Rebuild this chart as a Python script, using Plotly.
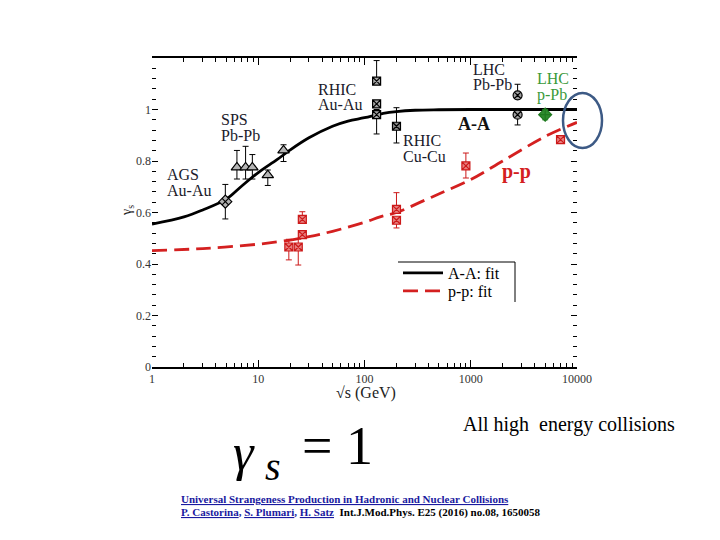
import plotly.graph_objects as go

# ---------------- data ----------------
fit_x = [1, 2, 3, 5, 7, 10, 15, 20, 30, 50, 70, 100, 150, 200, 300, 500, 1000, 3000, 10000]
fit_aa = [0.555, 0.583, 0.61, 0.652, 0.703, 0.755, 0.805, 0.843, 0.89, 0.935, 0.955, 0.968, 0.985, 0.992, 0.997, 0.999, 1.0, 1.0, 1.0]
fit_pp_x = [1, 3, 10, 20, 30, 50, 100, 140, 200, 370, 500, 1000, 2000, 5000, 10000]
fit_pp = [0.452, 0.46, 0.477, 0.493, 0.506, 0.527, 0.562, 0.583, 0.600, 0.648, 0.672, 0.728, 0.80, 0.895, 0.95]

ags_x = [4.9]
ags_y = [0.642]
ags_err = [0.067]

sps_x = [6.3, 7.6, 8.8, 12.3, 17.3]
sps_y = [0.775, 0.775, 0.775, 0.745, 0.841]
sps_ep = [0.066, 0.082, 0.05, 0.02, 0.022]
sps_em = [0.045, 0.045, 0.045, 0.04, 0.043]

rhic_au_x = [130, 130, 130]
rhic_au_y = [1.11, 1.022, 0.98]
rhic_au_ep = [0.08, 0.01, 0.02]
rhic_au_em = [0.0, 0.01, 0.075]

rhic_cu_x = [200]
rhic_cu_y = [0.935]
rhic_cu_ep = [0.072]
rhic_cu_em = [0.065]

lhc_pb_x = [2760, 2760]
lhc_pb_y = [1.055, 0.98]
lhc_pb_ep = [0.043, 0.0]
lhc_pb_em = [0.0, 0.04]

lhc_ppb_x = [5020]
lhc_ppb_y = [0.98]
lhc_ppb_err = [0.02]

pp_x = [19.4, 23.8, 26, 26, 200, 200, 900, 7000]
pp_y = [0.466, 0.466, 0.514, 0.573, 0.57, 0.612, 0.781, 0.883]
pp_ep = [0.03, 0.03, 0.0, 0.03, 0.0, 0.065, 0.05, 0.0]
pp_em = [0.05, 0.07, 0.0, 0.0, 0.03, 0.0, 0.047, 0.0]

x_ticks = [1, 10, 100, 1000, 10000]
x_ticklabels = ["1", "10", "100", "1000", "10000"]
y_ticks = [0, 0.2, 0.4, 0.6, 0.8, 1.0]
y_ticklabels = ["0", "0.2", "0.4", "0.6", "0.8", "1"]

# ---------------- geometry helpers (screen pixels) ----------------
W, H = 720, 540
L, R, T, B = 152, 577, 58, 367   # plot area as seen on screen
OFF = 8                          # page body margin shifts the figure


def px(x):
    return (x - L) / (R - L)


def py(y):
    return (B - y) / (B - T)


SERIF = "Liberation Serif"
fig = go.Figure()

fig.add_trace(go.Scatter(x=fit_x, y=fit_aa, mode="lines", name="A-A: fit", legend="legend",
                         line=dict(color="black", width=2.8, shape="spline")))
fig.add_trace(go.Scatter(x=fit_pp_x, y=fit_pp, mode="lines", name="p-p: fit", legend="legend2",
                         line=dict(color="#d42020", width=2.8, dash="15px,7px", shape="spline")))


def pts(x, y, ep, em, symbol, fill, edge, size):
    fig.add_trace(go.Scatter(
        x=x, y=y, mode="markers", showlegend=False,
        marker=dict(symbol=symbol, size=size, color=fill, line=dict(color=edge, width=1.2)),
        error_y=dict(type="data", array=ep, arrayminus=em, symmetric=False,
                     color=edge, thickness=1, width=3)))


pts(ags_x, ags_y, ags_err, ags_err, "diamond-x", "#b0b0b0", "black", 10)
pts(sps_x, sps_y, sps_ep, sps_em, "triangle-up", "#b5b5b5", "black", 10)
pts(rhic_au_x, rhic_au_y, rhic_au_ep, rhic_au_em, "square-x", "#a8a8a8", "black", 8)
pts(rhic_cu_x, rhic_cu_y, rhic_cu_ep, rhic_cu_em, "square-x", "#8a8a8a", "black", 8)
pts(lhc_pb_x, lhc_pb_y, lhc_pb_ep, lhc_pb_em, "circle-x", "#a0a0a0", "black", 9)
pts(lhc_ppb_x, lhc_ppb_y, lhc_ppb_err, lhc_ppb_err, "diamond-cross", "#2e8b2e", "#1f7a1f", 10)
pts(pp_x, pp_y, pp_ep, pp_em, "square-x", "#e88080", "#cc1a1a", 8)

# ---------------- labels ----------------
ann = []


def label(text, x, y, size=16, color="#1a1a2a", bold=False, xanchor="left"):
    t = f"<b>{text}</b>" if bold else text
    ann.append(dict(text=t, x=px(x), y=py(y), xref="paper", yref="paper",
                    xanchor=xanchor, yanchor="middle", showarrow=False,
                    font=dict(family=SERIF, size=size, color=color)))


label("AGS", 165, 174)
label("Au-Au", 165, 190)
label("SPS", 219, 120)
label("Pb-Pb", 219, 135)
label("RHIC", 316, 89)
label("Au-Au", 316, 104)
label("LHC", 471, 69)
label("Pb-Pb", 471, 84)
label("LHC", 535, 79, color="#3a9a3a")
label("p-Pb", 535, 95, color="#3a9a3a")
label("RHIC", 401, 140)
label("Cu-Cu", 401, 156)
label("A-A", 456, 124, size=18, color="#111", bold=True)
label("p-p", 500, 171, size=20, color="#d42020", bold=True)

# axis titles
ann.append(dict(text="γ<sub>s</sub>", x=px(127), y=py(211), xref="paper", yref="paper",
                textangle=-90, showarrow=False, xanchor="center", yanchor="middle",
                font=dict(family=SERIF, size=14, color="#222")))
ann.append(dict(text="√s (GeV)", x=px(366), y=py(393), xref="paper", yref="paper",
                showarrow=False, xanchor="center", yanchor="middle",
                font=dict(family=SERIF, size=16, color="#222")))

# text under the chart
ann.append(dict(text="All high  energy collisions", x=px(461), y=py(424), xref="paper", yref="paper",
                showarrow=False, xanchor="left", yanchor="middle",
                font=dict(family=SERIF, size=20, color="black")))
ann.append(dict(text="<i>γ</i>", x=px(231), y=py(452), xref="paper", yref="paper",
                showarrow=False, xanchor="left", yanchor="middle",
                font=dict(family=SERIF, size=52, color="black")))
ann.append(dict(text="<i>s</i>", x=px(263), y=py(466), xref="paper", yref="paper",
                showarrow=False, xanchor="left", yanchor="middle",
                font=dict(family=SERIF, size=40, color="black")))
ann.append(dict(text="= 1", x=px(300), y=py(446), xref="paper", yref="paper",
                showarrow=False, xanchor="left", yanchor="middle",
                font=dict(family=SERIF, size=54, color="black")))

BLUE = "#1a1aa0"
ann.append(dict(text="<b><u>Universal Strangeness Production in Hadronic and Nuclear Collisions</u></b>",
                x=px(179), y=py(499), xref="paper", yref="paper", showarrow=False,
                xanchor="left", yanchor="middle",
                font=dict(family=SERIF, size=11, color=BLUE)))
ann.append(dict(text=(f"<b><u>P. Castorina</u>, <u>S. Plumari</u>, <u>H. Satz</u></b>"
                      f"<b><span style='color:black'>  Int.J.Mod.Phys. E25 (2016) no.08, 1650058</span></b>"),
                x=px(179), y=py(512), xref="paper", yref="paper", showarrow=False,
                xanchor="left", yanchor="middle",
                font=dict(family=SERIF, size=11, color=BLUE)))

shapes = [
    # legend box (top and right edges)
    dict(type="line", xref="paper", yref="paper", x0=px(398), x1=px(515), y0=py(262), y1=py(262),
         line=dict(color="black", width=1)),
    dict(type="line", xref="paper", yref="paper", x0=px(515), x1=px(515), y0=py(262), y1=py(302),
         line=dict(color="black", width=1)),
    # highlight ellipse
    dict(type="circle", xref="paper", yref="paper", x0=px(563), x1=px(602), y0=py(148), y1=py(93),
         line=dict(color="#3d5a85", width=2.5)),
]

minor_x = [m * 10 ** d for d in range(4) for m in range(2, 10)]

legend_common = dict(xanchor="left", yanchor="top", bgcolor="rgba(0,0,0,0)", borderwidth=0,
                     font=dict(family=SERIF, size=16, color="black"), itemwidth=40)

fig.update_layout(
    width=W, height=H,
    margin=dict(l=L - OFF, r=W - R + OFF, t=T - OFF, b=H - B + OFF, pad=0),
    paper_bgcolor="white", plot_bgcolor="white",
    font=dict(family=SERIF, color="#333"),
    showlegend=True,
    legend=dict(x=px(398), y=py(256), **legend_common),
    legend2=dict(x=px(398), y=py(274), **legend_common),
    annotations=ann, shapes=shapes,
    xaxis=dict(type="log", range=[0, 4], tickmode="array", tickvals=x_ticks, ticktext=x_ticklabels,
               ticks="inside", ticklen=7, tickwidth=1, tickcolor="black",
               showline=True, linecolor="black", linewidth=1.5, mirror="allticks",
               showgrid=False, zeroline=False,
               tickfont=dict(family=SERIF, size=12, color="#333"),
               minor=dict(tickmode="array", tickvals=minor_x, ticks="inside", ticklen=4,
                          tickcolor="black", showgrid=False)),
    yaxis=dict(range=[0, 1.2], tickmode="array", tickvals=y_ticks, ticktext=y_ticklabels,
               ticks="inside", ticklen=6, tickwidth=1, tickcolor="black",
               showline=False, mirror="allticks",
               showgrid=False, zeroline=False,
               tickfont=dict(family=SERIF, size=12, color="#333"),
               minor=dict(dtick=0.04, tick0=0, ticks="inside", ticklen=4,
                          tickcolor="black", showgrid=False)),
)

fig.write_html("out.html")
